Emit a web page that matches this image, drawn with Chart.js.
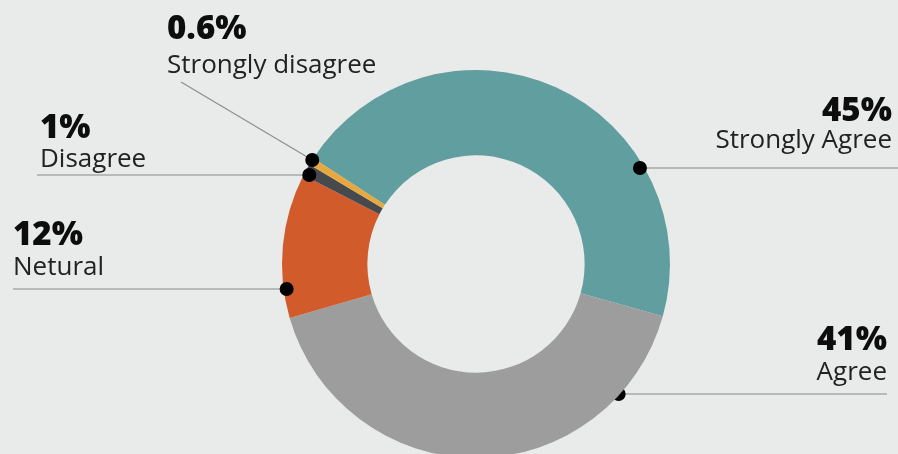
<!DOCTYPE html>
<html><head><meta charset="utf-8">
<script src="https://cdn.jsdelivr.net/npm/chart.js@4"></script>
<style>
html,body{margin:0;padding:0;background:#e9eaea;overflow:hidden;}
#wrap{position:relative;width:898px;height:458px;}
canvas{display:block;}
</style></head><body>
<div id="wrap"><canvas id="c" width="898" height="458"></canvas></div>
<script>
// ---- data ----
const categories = ['Strongly Agree', 'Agree', 'Netural', 'Disagree', 'Strongly disagree'];
const values = [45, 41, 12, 1, 0.6];
const percentLabels = ['45%', '41%', '12%', '1%', '0.6%'];
const colors = ['#619e9f', '#9d9d9d', '#d15b2b', '#474a4c', '#e8a73f'];

// ---- annotation layout (label placement only) ----
const labelLayout = [
  {align: 'right', x: 892, pctY: 121, lblY: 148, lineY: 168, lineEnd: 898, rOff: -4, behind: false},
  {align: 'right', x: 887, pctY: 350, lblY: 380, lineY: 394, lineEnd: 887, rOff: -1, behind: true},
  {align: 'left',  x: 13,  pctY: 245, lblY: 275, lineY: 289, lineEnd: 13,  rOff: -3, behind: false},
  {align: 'left',  x: 40,  pctY: 138, lblY: 167, lineY: 175, lineEnd: 37,  rOff: -5, behind: false},
  {align: 'left',  x: 167, pctY: 39,  lblY: 73,  diag: {x: 181, y: 82}, rOff: 0, behind: false}
];

function dotPos(chart, i) {
  const arc = chart.getDatasetMeta(0).data[i];
  const L = labelLayout[i];
  const cx = arc.x, cy = arc.y, R = arc.outerRadius + L.rOff;
  if (L.diag) {
    const a = arc.endAngle - 0.01;
    return {x: cx + R * Math.cos(a), y: cy + R * Math.sin(a)};
  }
  const dy = L.lineY - cy;
  const dx = Math.sqrt(Math.max(R * R - dy * dy, 0));
  return {x: L.align === 'right' ? cx + dx : cx - dx, y: L.lineY};
}

function drawLeader(ctx, chart, i) {
  const L = labelLayout[i];
  const p = dotPos(chart, i);
  ctx.save();
  if (L.diag) {
    ctx.strokeStyle = '#8f8f8f';
    ctx.lineWidth = 1.3;
    ctx.beginPath();
    ctx.moveTo(L.diag.x, L.diag.y);
    ctx.lineTo(p.x, p.y);
    ctx.stroke();
  } else {
    ctx.strokeStyle = '#b9b9b9';
    ctx.lineWidth = 2;
    ctx.beginPath();
    ctx.moveTo(p.x, L.lineY);
    ctx.lineTo(L.lineEnd, L.lineY);
    ctx.stroke();
  }
  ctx.fillStyle = '#000';
  ctx.beginPath();
  ctx.arc(p.x, p.y, 7, 0, Math.PI * 2);
  ctx.fill();
  ctx.restore();
}

const labelsPlugin = {
  id: 'calloutLabels',
  beforeDatasetsDraw(chart) {
    const ctx = chart.ctx;
    labelLayout.forEach((L, i) => { if (L.behind) drawLeader(ctx, chart, i); });
  },
  afterDatasetsDraw(chart) {
    const ctx = chart.ctx;
    labelLayout.forEach((L, i) => { if (!L.behind) drawLeader(ctx, chart, i); });
    ctx.save();
    labelLayout.forEach((L, i) => {
      ctx.textAlign = L.align;
      ctx.textBaseline = 'alphabetic';
      ctx.fillStyle = '#0d0d0d';
      ctx.font = '800 33px "Open Sans"';
      ctx.fillText(percentLabels[i], L.x, L.pctY);
      ctx.fillStyle = '#222';
      ctx.font = '26px "Open Sans"';
      ctx.fillText(categories[i], L.x, L.lblY);
    });
    ctx.restore();
  }
};

new Chart(document.getElementById('c'), {
  type: 'doughnut',
  data: {
    labels: categories,
    datasets: [{
      data: values,
      backgroundColor: colors,
      borderWidth: 0
    }]
  },
  options: {
    responsive: false,
    animation: false,
    rotation: -57,
    cutout: '56%',
    layout: {padding: {left: 282, right: 228, top: 70, bottom: 0}},
    plugins: {legend: {display: false}, tooltip: {enabled: false}}
  },
  plugins: [labelsPlugin]
});
</script>
</body></html>
